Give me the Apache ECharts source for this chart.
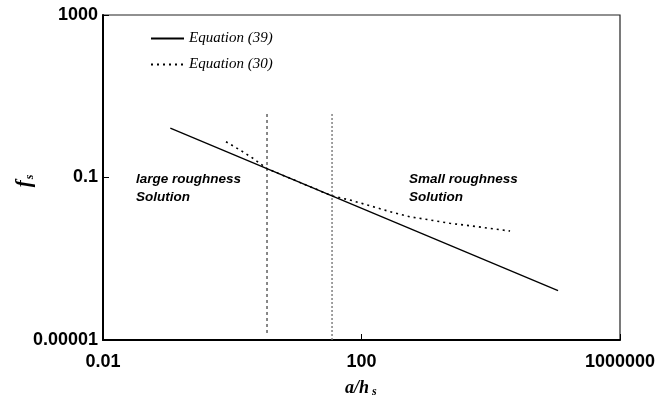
<!DOCTYPE html>
<html>
<head>
<meta charset="utf-8">
<script src="https://cdn.jsdelivr.net/npm/echarts@6/dist/echarts.min.js"></script>
<style>
  html, body { margin: 0; padding: 0; background: #fff; }
  #chart { width: 672px; height: 397px; }
</style>
</head>
<body>
<div id="chart"></div>
<script>
// Equation (39): power law f_s ~ (a/h_s)^(-2/3)
const eq39X = [0.11, 110000];
const eq39Y = [1.65, 0.000165];

// Equation (30): full solution
const eq30X = [0.8, 1.32, 2.09, 3.45, 35, 66, 135, 276, 560, 1150, 2340, 4780, 9730, 19900];
const eq30Y = [0.76, 0.475, 0.297, 0.165, 0.0353, 0.0279, 0.0202, 0.0144, 0.0108, 0.0090, 0.00745, 0.0065, 0.0056, 0.0048];

// Boundaries between the roughness regimes
const boundX = [3.45, 35];
const boundTop = [3.66, 3.66];
const boundBottom = [0.0000126, 0.00001];

// Axis ticks
const xTickValues = [0.01, 100, 1000000];
const xTickLabels = ['0.01', '100', '1000000'];
const yTickValues = [0.00001, 0.1, 1000];
const yTickLabels = ['0.00001', '0.1', '1000'];

function tickLabel(values, labels) {
  return function (v) {
    const lv = Math.log10(v);
    const i = values.findIndex(t => Math.abs(Math.log10(t) - lv) < 1e-6);
    return i >= 0 ? labels[i] : '';
  };
}

const pairs = (xs, ys) => xs.map((x, i) => [x, ys[i]]);

const tickFont = {
  fontFamily: 'Liberation Sans, Arial, sans-serif',
  fontWeight: 'bold',
  fontSize: 18,
  color: '#000'
};

const chart = echarts.init(document.getElementById('chart'), null, { renderer: 'canvas' });

chart.setOption({
  animation: false,
  backgroundColor: '#fff',
  grid: {
    left: 103, top: 15, right: 52, bottom: 57,
    show: true, borderColor: '#222', borderWidth: 1.2, backgroundColor: 'transparent'
  },
  legend: {
    data: ['Equation (39)', 'Equation (30)'],
    orient: 'vertical',
    left: 145,
    top: 26,
    itemWidth: 33,
    itemHeight: 12,
    itemGap: 11,
    itemStyle: { opacity: 0 },
    textStyle: {
      fontFamily: 'Liberation Serif, Times New Roman, serif',
      fontStyle: 'italic',
      fontSize: 15,
      color: '#000'
    }
  },
  xAxis: {
    type: 'log',
    logBase: 10,
    min: 0.01,
    max: 1000000,
    interval: 4,
    axisLine: { lineStyle: { color: '#000', width: 2 } },
    axisTick: { inside: true, length: 6, lineStyle: { color: '#000', width: 1 } },
    axisLabel: Object.assign({ margin: 13, formatter: tickLabel(xTickValues, xTickLabels) }, tickFont),
    splitLine: { show: false },
    minorTick: { show: false }
  },
  yAxis: {
    type: 'log',
    logBase: 10,
    min: 0.00001,
    max: 1000,
    interval: 4,
    axisLine: { lineStyle: { color: '#000', width: 2 } },
    axisTick: { inside: true, length: 6, lineStyle: { color: '#000', width: 1 } },
    axisLabel: Object.assign({ margin: 5, formatter: tickLabel(yTickValues, yTickLabels) }, tickFont),
    splitLine: { show: false },
    minorTick: { show: false }
  },
  series: [
    {
      name: 'Equation (39)',
      type: 'line',
      data: pairs(eq39X, eq39Y),
      symbol: 'none',
      showSymbol: false,
      lineStyle: { color: '#000', width: 1.3, type: 'solid' },
      itemStyle: { color: '#000' },
      z: 3
    },
    {
      name: 'Equation (30)',
      type: 'line',
      data: pairs(eq30X, eq30Y),
      symbol: 'none',
      showSymbol: false,
      lineStyle: { color: '#000', width: 1.6, type: [2, 4] },
      itemStyle: { color: '#000' },
      z: 4
    },
    {
      name: 'boundary-large',
      type: 'line',
      data: [[boundX[0], boundTop[0]], [boundX[0], boundBottom[0]]],
      symbol: 'none',
      lineStyle: { color: '#111', width: 1, type: [3, 3] },
      silent: true,
      z: 2
    },
    {
      name: 'boundary-small',
      type: 'line',
      data: [[boundX[1], boundTop[1]], [boundX[1], boundBottom[1]]],
      symbol: 'none',
      lineStyle: { color: '#777', width: 1.4, type: [2, 2] },
      silent: true,
      z: 2
    }
  ],
  graphic: [
    {
      type: 'text',
      left: 136, top: 170,
      style: {
        text: 'large roughness\nSolution',
        fontFamily: 'Liberation Sans, Arial, sans-serif',
        fontWeight: 'bold', fontStyle: 'italic', fontSize: 13.5,
        lineHeight: 18, fill: '#000'
      }
    },
    {
      type: 'text',
      left: 409, top: 170,
      style: {
        text: 'Small roughness\nSolution',
        fontFamily: 'Liberation Sans, Arial, sans-serif',
        fontWeight: 'bold', fontStyle: 'italic', fontSize: 13.5,
        lineHeight: 18, fill: '#000'
      }
    },
    {
      type: 'text',
      x: 25, y: 181,
      rotation: Math.PI / 2,
      style: {
        text: '{f|f}{s|s}',
        align: 'center',
        verticalAlign: 'middle',
        rich: {
          f: { fontFamily: 'Liberation Serif, serif', fontStyle: 'italic', fontWeight: 'bold', fontSize: 21, fill: '#000' },
          s: { fontFamily: 'Liberation Serif, serif', fontStyle: 'italic', fontWeight: 'bold', fontSize: 12, fill: '#000', padding: [9, 0, 0, 1] }
        }
      }
    },
    {
      type: 'text',
      left: 345, top: 379,
      style: {
        text: '{a|a/h}{s| s}',
        rich: {
          a: { fontFamily: 'Liberation Serif, serif', fontStyle: 'italic', fontWeight: 'bold', fontSize: 18, fill: '#000' },
          s: { fontFamily: 'Liberation Serif, serif', fontStyle: 'italic', fontWeight: 'bold', fontSize: 12, fill: '#000', padding: [7, 0, 0, 0] }
        }
      }
    }
  ]
});
</script>
</body>
</html>
